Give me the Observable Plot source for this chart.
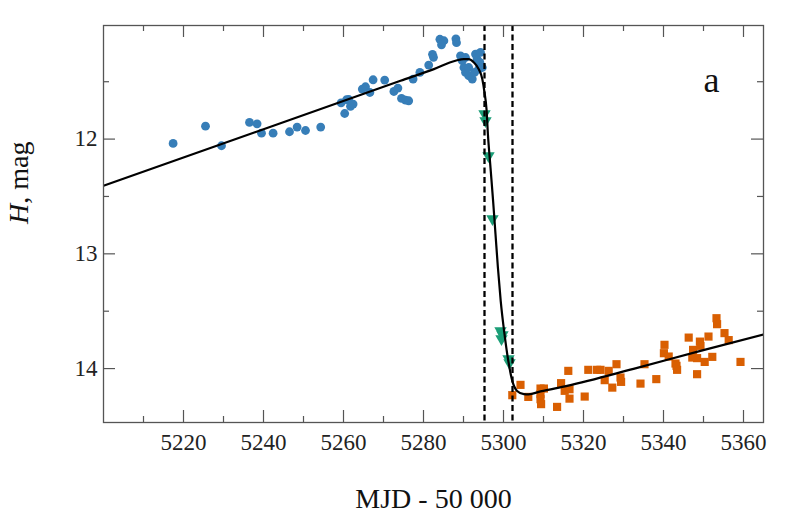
<!DOCTYPE html>
<html><head><meta charset="utf-8">
<script src="https://cdn.jsdelivr.net/npm/d3@7"></script>
<script src="https://cdn.jsdelivr.net/npm/@observablehq/plot@0.6"></script>
<style>html,body{margin:0;padding:0;background:#fff;}</style>
</head><body><div id="chart"></div>
<script>
// ---- data (MJD - 50000, H magnitude) ----
const blueMJD = [5217.4,5225.5,5229.5,5236.5,5238.4,5239.5,5242.4,5246.5,5248.4,5250.5,5254.3,5259.4,5260.3,5260.75,5261.3,5261.75,5262.4,5264.7,5265.5,5266.6,5267.4,5270.3,5272.6,5273.6,5274.5,5275.5,5276.3,5277.4,5279.1,5281.3,5282.25,5282.5,5284.1,5285.1,5284.5,5288.1,5288.25,5289.25,5289.7,5290.1,5290.5,5291.3,5292.2,5293.0,5293.4,5294.25,5294.1,5294.7,5293.8,5292.75,5291.3,5290.5];
const blueH   = [12.038,11.887,12.058,11.855,11.867,11.948,11.948,11.936,11.895,11.925,11.895,11.684,11.777,11.657,11.655,11.714,11.695,11.564,11.544,11.594,11.483,11.486,11.585,11.555,11.646,11.66,11.666,11.477,11.419,11.355,11.261,11.287,11.13,11.143,11.178,11.126,11.16,11.274,11.317,11.376,11.419,11.448,11.477,11.259,11.303,11.245,11.332,11.376,11.39,11.419,11.376,11.289];

const greenMJD = [5295.25,5295.5,5296.25,5297.25,5299.25,5299.75,5299.5,5301.25,5301.5];
const greenH   = [11.779,11.84,12.146,12.695,13.671,13.706,13.741,13.915,13.95];

const orangeMJD = [5302.2,5304.25,5306.2,5309.25,5310.1,5309.25,5309.25,5309.4,5313.4,5314.4,5315.3,5316.2,5316.5,5316.5,5320.3,5321.2,5323.4,5324.25,5325.3,5326.3,5327.2,5328.25,5329.25,5329.4,5334.25,5335.25,5338.2,5340.25,5340.1,5341.3,5343.0,5343.25,5343.4,5346.3,5347.4,5347.2,5348.4,5348.4,5349.1,5349.25,5350.3,5351.25,5352.2,5353.25,5353.4,5355.25,5356.3,5359.25];
const orangeH   = [14.232,14.142,14.247,14.174,14.174,14.223,14.267,14.31,14.334,14.127,14.194,14.02,14.18,14.262,14.244,14.011,14.011,14.011,14.101,14.02,14.166,13.962,14.078,14.116,14.131,13.962,14.092,13.793,13.866,13.895,13.956,13.976,14.011,13.73,13.837,13.904,13.909,14.049,13.765,13.802,13.942,13.721,13.898,13.561,13.613,13.691,13.752,13.942];

// model curve
const modelMJD = [5200,5274.25,5282.6,5288,5290.1,5291.3,5292.6,5293.8,5294.7,5295.25,5295.75,5296.1,5296.75,5297.4,5298.0,5298.6,5299.3,5300.25,5301.2,5302.2,5303.4,5305.1,5306.25,5309.25,5315.9,5332.5,5349.25,5365];
const modelH   = [12.407,11.492,11.39,11.317,11.303,11.303,11.332,11.39,11.477,11.594,11.738,11.956,12.248,12.538,12.828,13.119,13.41,13.70,13.933,14.107,14.195,14.223,14.225,14.199,14.151,14.003,13.846,13.703];

const eventMJD = [5295.25, 5302.25];

const xMajor = [5220,5240,5260,5280,5300,5320,5340,5360];
const xMinor = [5210,5230,5250,5270,5290,5310,5330,5350];
const yMajor = [12,13,14];
const yMinor = [11.5,12.5,13.5];

const xLabel = "MJD - 50 000";
const yLabel = "H, mag";
const panelLabel = "a";

// ---- tables ----
const toRows = (xs, ys) => xs.map((x, i) => ({t: x, h: ys[i]}));
const blue = toRows(blueMJD, blueH);
const green = toRows(greenMJD, greenH);
const orange = toRows(orangeMJD, orangeH);
const model = toRows(modelMJD, modelH);

const W = 789, H = 526, mL = 103, mR = 26, mT = 25, mB = 104;
const pw = W - mL - mR, ph = H - mT - mB;
const frameColor = "#555";
const majorLen = 12, minorLen = 6;

const tickMarks = [];
for (const [vals, len] of [[xMajor, majorLen], [xMinor, minorLen]]) {
  tickMarks.push(Plot.tickX(vals, {x: d => d, insetTop: ph - len, stroke: frameColor, strokeWidth: 1.2}));
  tickMarks.push(Plot.tickX(vals, {x: d => d, insetBottom: ph - len, stroke: frameColor, strokeWidth: 1.2}));
}
for (const [vals, len] of [[yMajor, majorLen], [yMinor, minorLen]]) {
  tickMarks.push(Plot.tickY(vals, {y: d => d, insetRight: pw - len, stroke: frameColor, strokeWidth: 1.2}));
  tickMarks.push(Plot.tickY(vals, {y: d => d, insetLeft: pw - len, stroke: frameColor, strokeWidth: 1.2}));
}

const chart = Plot.plot({
  width: W, height: H,
  marginLeft: mL, marginRight: mR, marginTop: mT, marginBottom: mB,
  style: {fontFamily: "'Liberation Serif', 'DejaVu Serif', serif", fontSize: "23px", background: "#fff", color: "#000", overflow: "visible"},
  x: {domain: [5200, 5365], axis: null},
  y: {domain: [11.01, 14.47], reverse: true, axis: null},
  marks: [
    Plot.dot(blue, {x: "t", y: "h", r: 4.4, fill: "#377eb8", stroke: "none"}),
    Plot.dot(green, {x: "t", y: "h", r: 4.6, symbol: "triangle", rotate: 180, fill: "#1b9e77", stroke: "none"}),
    Plot.dot(orange, {x: "t", y: "h", r: 4.6, symbol: "square", fill: "#d95f02", stroke: "none"}),
    Plot.line(model, {x: "t", y: "h", curve: "monotone-x", stroke: "#000", strokeWidth: 2.2, clip: true}),
    Plot.ruleX(eventMJD, {x: d => d, stroke: "#000", strokeWidth: 2.3, strokeDasharray: "6,3.5"}),
    ...tickMarks,
    Plot.frame({stroke: frameColor, strokeWidth: 1.3}),
    Plot.text(xMajor, {x: d => d, text: d => String(d), frameAnchor: "bottom", lineAnchor: "top", dy: 11, fill: "#222"}),
    Plot.text(yMajor, {y: d => d, text: d => String(d), frameAnchor: "left", textAnchor: "end", dx: -6, fill: "#222"}),
    Plot.text([xLabel], {text: d => d, frameAnchor: "bottom", dy: 85.5, fontSize: 28, fill: "#111"}),
    Plot.text([yLabel], {text: d => d, frameAnchor: "left", dx: -84.5, rotate: -90, fontSize: 28, fill: "#111"}),
    Plot.text([panelLabel], {text: d => d, frameAnchor: "top-right", dx: -44, dy: 41, fontSize: 36, fill: "#111"})
  ]
});

// italic H in the y label
d3.select(chart).selectAll("text").filter(function() { return this.textContent === yLabel; }).each(function() {
  const t = d3.select(this);
  t.text("");
  t.append("tspan").attr("font-style", "italic").text(yLabel.slice(0, 1));
  t.append("tspan").text(yLabel.slice(1));
});

document.getElementById("chart").appendChild(chart);
</script>
</body></html>
